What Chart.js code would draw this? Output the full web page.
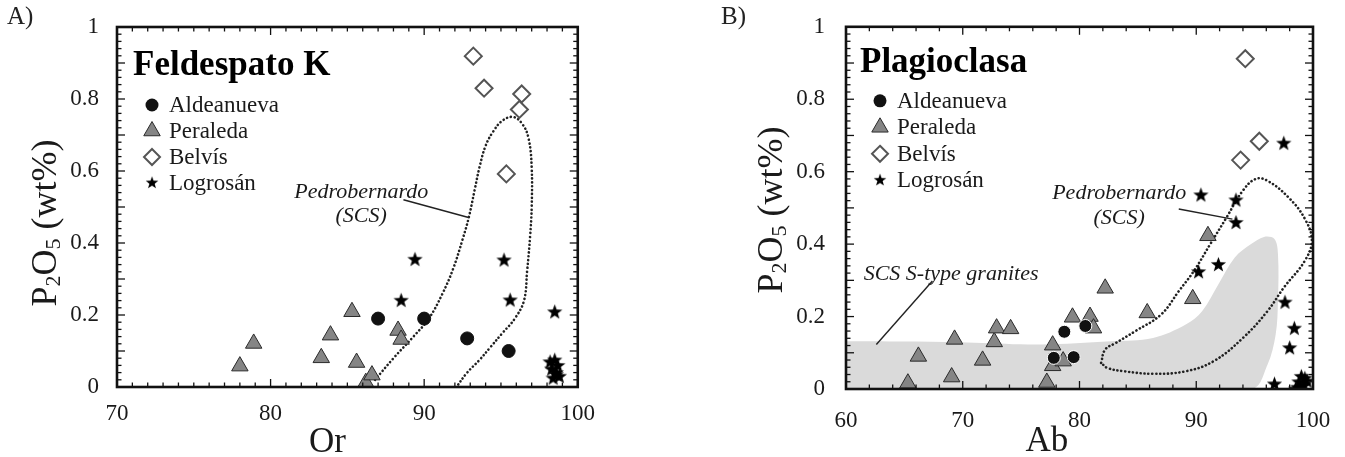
<!DOCTYPE html>
<html>
<head>
<meta charset="utf-8">
<script src="https://cdn.jsdelivr.net/npm/chart.js@4.4.0/dist/chart.umd.min.js"></script>
<style>
    html, body { margin: 0; padding: 0; background: #fff; font-family: "Liberation Serif", serif; }
    .cell { position: absolute; top: 0; height: 457px; }
    .tag { position: absolute; left: 7px; top: 2px; font-size: 25px; color: #222; z-index: 2; }
    .axes { position: absolute; left: 0; top: 0; z-index: 3; pointer-events: none; }
</style>
</head>
<body>
<div class="cell" id="pa" style="left:0;width:600px"><div class="tag">A)</div><canvas id="chartA"></canvas></div>
<div class="cell" id="pb" style="left:700px;width:645px"><div class="tag" style="left:21px">B)</div><canvas id="chartB"></canvas></div>
<script>
// ---- Panel A: Feldespato K (Or vs P2O5) ----
const aAldeOr = [87.0, 90.0, 92.8, 95.5];
const aAldeP  = [0.19, 0.19, 0.135, 0.10];
const aPeraOr = [78.0, 78.9, 83.3, 83.9, 85.3, 85.6, 86.2, 86.6, 88.3, 88.5];
const aPeraP  = [0.058, 0.121, 0.081, 0.144, 0.209, 0.068, 0.012, 0.033, 0.157, 0.132];
const aBelvOr = [93.2, 93.9, 96.35, 96.2, 95.35];
const aBelvP  = [0.919, 0.83, 0.814, 0.771, 0.592];
const aLogrOr = [89.4, 88.5, 95.2, 95.6, 98.5, 98.2, 98.5, 98.7, 98.3, 98.6, 98.8, 98.4, 98.6];
const aLogrP  = [0.355, 0.241, 0.353, 0.242, 0.209, 0.07, 0.075, 0.06, 0.05, 0.04, 0.03, 0.025, 0.035];
// Pedrobernardo (SCS) field outline
const aPedroOr = [86.8, 88.0, 89.3, 90.3, 91.2, 91.9, 92.5, 92.9, 93.3, 93.6, 94.0, 94.5, 95.1, 95.8, 96.4, 96.8, 97.0, 97.0, 96.9, 96.7, 96.5, 95.9, 95.1, 94.3, 93.6, 92.8, 92.1];
const aPedroP  = [0.02, 0.08, 0.14, 0.19, 0.26, 0.33, 0.41, 0.47, 0.55, 0.61, 0.67, 0.71, 0.74, 0.75, 0.73, 0.69, 0.61, 0.50, 0.42, 0.32, 0.24, 0.19, 0.15, 0.11, 0.075, 0.04, 0.0];
const aLeaderOr = [88.65, 92.95];
const aLeaderP  = [0.52, 0.47];

// ---- Panel B: Plagioclasa (Ab vs P2O5) ----
const bAldeAb = [78.7, 80.5, 77.8, 79.5];
const bAldeP  = [0.158, 0.174, 0.086, 0.088];
const bPeraAb = [65.3, 66.2, 69.05, 69.3, 71.7, 72.7, 72.9, 74.1, 77.2, 77.7, 77.7, 78.6, 79.4, 80.9, 81.2, 82.2, 85.8, 89.7, 91.0];
const bPeraP  = [0.016, 0.09, 0.033, 0.137, 0.079, 0.13, 0.168, 0.166, 0.018, 0.121, 0.064, 0.077, 0.198, 0.2, 0.168, 0.278, 0.21, 0.249, 0.423];
const bBelvAb = [94.2, 93.8, 95.4];
const bBelvP  = [0.912, 0.632, 0.684];
const bLogrAb = [90.4, 93.4, 93.4, 90.2, 91.9, 97.5, 97.6, 98.4, 98.0, 96.7, 98.5, 98.8, 99.0, 99.3, 98.9, 99.2, 99.5, 98.7];
const bLogrP  = [0.536, 0.522, 0.46, 0.324, 0.344, 0.679, 0.24, 0.168, 0.114, 0.014, 0.0, 0.02, 0.035, 0.03, 0.0, 0.01, 0.022, 0.005];
// SCS S-type granites field (shaded)
const bGranAb = [60, 66.0, 71.0, 76.7, 82.7, 86.3, 89.1, 90.5, 91.9, 93.3, 94.7, 95.8, 96.7, 97.0, 97.0, 96.8, 96.1, 94.7, 60];
const bGranP  = [0.132, 0.131, 0.128, 0.123, 0.132, 0.141, 0.178, 0.215, 0.289, 0.363, 0.40, 0.42, 0.414, 0.372, 0.243, 0.15, 0.067, 0.0, 0.0];
// Pedrobernardo (SCS) field outline
const bPedroAb = [81.85, 82.2, 83.1, 84.8, 87.0, 88.5, 89.8, 91.2, 92.6, 94.0, 95.1, 96.1, 97.9, 99.3, 99.9, 99.3, 97.5, 96.1, 94.0, 91.5, 89.1, 86.3, 83.8, 82.4, 81.85];
const bPedroP  = [0.072, 0.109, 0.127, 0.16, 0.206, 0.27, 0.326, 0.40, 0.474, 0.548, 0.58, 0.575, 0.529, 0.47, 0.41, 0.354, 0.28, 0.215, 0.141, 0.077, 0.049, 0.042, 0.049, 0.058, 0.072];
const bLeaderPedAb = [88.5, 93.1];
const bLeaderPedP  = [0.497, 0.469];
const bLeaderGranAb = [67.4, 62.6];
const bLeaderGranP  = [0.298, 0.123];

const seriesNames = ['Aldeanueva', 'Peraleda', 'Belvís', 'Logrosán'];

const SERIF = '"Liberation Serif", "Times New Roman", serif';
const INK = '#1a1a1a';

const pts = (xs, ys) => xs.map((x, i) => ({ x, y: ys[i] }));

const starImg = (() => {
    const c = document.createElement('canvas');
    c.width = c.height = 17;
    const g = c.getContext('2d');
    g.beginPath();
    for (let i = 0; i < 10; i++) {
        const r = i % 2 ? 3.3 : 8;
        const ang = -Math.PI / 2 + i * Math.PI / 5;
        g.lineTo(8.5 + r * Math.cos(ang), 9 + r * Math.sin(ang));
    }
    g.closePath();
    g.fillStyle = '#000';
    g.fill();
    return c;
})();

function markerSets(ald, pera, belv, logr, circleEdge) {
    return [
        { label: seriesNames[0], data: ald, pointStyle: 'circle', pointRadius: 6.5,
          backgroundColor: '#111', borderColor: circleEdge, borderWidth: 1 },
        { label: seriesNames[3], data: logr, pointStyle: starImg },
        { label: seriesNames[1], data: pera, pointStyle: 'triangle', pointRadius: 9.5,
          backgroundColor: '#858585', borderColor: '#2a2a2a', borderWidth: 1 },
        { label: seriesNames[2], data: belv, pointStyle: 'rectRot', pointRadius: 8.5,
          backgroundColor: '#fff', borderColor: '#555', borderWidth: 2 }
    ];
}

function dottedLine(data) {
    return { data, showLine: true, pointRadius: 0, borderColor: '#222', borderWidth: 2.6,
             borderDash: [0.1, 3.8], borderCapStyle: 'round', tension: 0.4, fill: false };
}

function leader(data) {
    return { data, showLine: true, pointRadius: 0, borderColor: '#222', borderWidth: 1.4, tension: 0 };
}

// box frame with inward minor/major ticks, laid over the canvas from the chart's own scales
function drawAxesBox(chart, cellId, t) {
    const cell = document.getElementById(cellId);
    const a = chart.chartArea;
    const sx = chart.scales.x, sy = chart.scales.y;
    const NS = 'http://www.w3.org/2000/svg';
    const svg = document.createElementNS(NS, 'svg');
    svg.setAttribute('class', 'axes');
    svg.setAttribute('width', cell.clientWidth);
    svg.setAttribute('height', cell.clientHeight);
    const line = (x1, y1, x2, y2, w) => {
        const l = document.createElementNS(NS, 'line');
        l.setAttribute('x1', x1); l.setAttribute('y1', y1);
        l.setAttribute('x2', x2); l.setAttribute('y2', y2);
        l.setAttribute('stroke', '#111');
        l.setAttribute('stroke-width', w);
        svg.appendChild(l);
    };
    const isMajor = (v, step) => Math.abs(v / step - Math.round(v / step)) < 1e-6;
    const nx = Math.round((sx.max - sx.min) / t.xMinor);
    for (let i = 0; i <= nx; i++) {
        const v = sx.min + i * t.xMinor;
        const len = isMajor(v, t.xMajor) ? 8 : 4.5;
        const p = sx.getPixelForValue(v);
        line(p, a.bottom, p, a.bottom - len, 1.3);
        line(p, a.top, p, a.top + len, 1.3);
    }
    const ny = Math.round((sy.max - sy.min) / t.yMinor);
    for (let i = 0; i <= ny; i++) {
        const v = sy.min + i * t.yMinor;
        const len = isMajor(v, t.yMajor) ? 8 : 4.5;
        const p = sy.getPixelForValue(v);
        line(a.left, p, a.left + len, p, 1.3);
        line(a.right, p, a.right - len, p, 1.3);
    }
    const r = document.createElementNS(NS, 'rect');
    r.setAttribute('x', a.left); r.setAttribute('y', a.top);
    r.setAttribute('width', a.right - a.left); r.setAttribute('height', a.bottom - a.top);
    r.setAttribute('fill', 'none'); r.setAttribute('stroke', '#111'); r.setAttribute('stroke-width', 2.6);
    svg.appendChild(r);
    cell.appendChild(svg);
}

// legend and texts
const panelPlugin = {
    id: 'panel',
    afterDatasetsDraw(chart, args, o) {
        const { ctx, chartArea: a, scales: { x, y } } = chart;
        ctx.save();
        ctx.fillStyle = '#000';
        // panel title
        ctx.font = 'bold 35px ' + SERIF;
        ctx.textAlign = 'left';
        ctx.textBaseline = 'alphabetic';
        ctx.fillText(o.title, a.left + o.titleDx, a.top + o.titleDy);

        // legend
        ctx.font = '23px ' + SERIF;
        ctx.textBaseline = 'middle';
        seriesNames.forEach((name, i) => {
            const cy = a.top + o.legTop + i * o.legGap;
            const cx = a.left + o.legDx;
            ctx.beginPath();
            if (i === 0) {
                ctx.arc(cx, cy, 6.5, 0, Math.PI * 2);
                ctx.fillStyle = '#111'; ctx.fill();
            } else if (i === 1) {
                const r = 9.5;
                ctx.moveTo(cx, cy - r);
                ctx.lineTo(cx + r * 0.866, cy + r / 2);
                ctx.lineTo(cx - r * 0.866, cy + r / 2);
                ctx.closePath();
                ctx.fillStyle = '#858585'; ctx.fill();
                ctx.strokeStyle = '#2a2a2a'; ctx.lineWidth = 1; ctx.stroke();
            } else if (i === 2) {
                const r = 8;
                ctx.moveTo(cx, cy - r); ctx.lineTo(cx + r, cy);
                ctx.lineTo(cx, cy + r); ctx.lineTo(cx - r, cy);
                ctx.closePath();
                ctx.fillStyle = '#fff'; ctx.fill();
                ctx.strokeStyle = '#555'; ctx.lineWidth = 2; ctx.stroke();
            } else {
                ctx.drawImage(starImg, cx - 7, cy - 7.5, 14, 14);
            }
            ctx.fillStyle = INK;
            ctx.fillText(name, a.left + o.legText, cy + 1);
        });

        // annotations
        ctx.font = 'italic 22px ' + SERIF;
        ctx.textAlign = 'center';
        o.notes.forEach(n => {
            ctx.fillText(n.text, x.getPixelForValue(n.x), y.getPixelForValue(n.y));
        });

        // x axis title
        ctx.font = '35px ' + SERIF;
        ctx.textBaseline = 'alphabetic';
        ctx.fillStyle = INK;
        ctx.fillText(o.xTitle, x.getPixelForValue(o.xTitleAt), o.xTitleBase);

        // y axis title P2O5 (wt%)
        const big = 36, small = 22;
        const parts = [['P', big, 0], ['2', small, 7], ['O', big, 0], ['5', small, 7], [' (wt%)', big, 0]];
        let w = 0;
        parts.forEach(p => { ctx.font = p[1] + 'px ' + SERIF; w += ctx.measureText(p[0]).width; });
        ctx.translate(a.left + o.yTitleDx, o.yTitleMid);
        ctx.rotate(-Math.PI / 2);
        ctx.textAlign = 'left';
        ctx.textBaseline = 'middle';
        let cx = -w / 2;
        parts.forEach(p => {
            ctx.font = p[1] + 'px ' + SERIF;
            ctx.fillText(p[0], cx, p[2]);
            cx += ctx.measureText(p[0]).width;
        });
        ctx.restore();
    }
};

function makeChart(id, cellId, cfg) {
    const yTick = v => String(Math.round(v * 10) / 10);
    const chart = new Chart(document.getElementById(id), {
        type: 'scatter',
        data: { datasets: cfg.datasets },
        options: {
            responsive: false,
            animation: false,
            layout: { padding: cfg.padding },
            plugins: {
                legend: { display: false },
                tooltip: { enabled: false },
                panel: cfg.panel
            },
            scales: {
                x: {
                    type: 'linear', min: cfg.xMin, max: 100,
                    afterFit: s => { s.height = cfg.xAxisH; },
                    border: { display: false },
                    grid: { display: false },
                    ticks: { stepSize: 10, color: INK, padding: cfg.xPad,
                             font: { family: SERIF, size: 23 } }
                },
                y: {
                    min: 0, max: 1,
                    afterFit: s => { s.width = cfg.yAxisW; },
                    border: { display: false },
                    grid: { display: false },
                    ticks: { stepSize: 0.2, color: INK, padding: cfg.yPad,
                             font: { family: SERIF, size: 23 }, callback: yTick }
                }
            }
        },
        plugins: [panelPlugin]
    });
    drawAxesBox(chart, cellId, cfg.ticks);
}

// fixed canvas sizes, same as the cells
document.getElementById('chartA').width = 600;
document.getElementById('chartA').height = 457;
document.getElementById('chartB').width = 645;
document.getElementById('chartB').height = 457;

makeChart('chartA', 'pa', {
    xMin: 70,
    xAxisH: 70,
    yAxisW: 117,
    xPad: 5,
    yPad: 10,
    padding: { top: 27, right: 17, left: 0, bottom: 0 },
    ticks: { xMinor: 1, xMajor: 10, yMinor: 0.02, yMajor: 0.1 },
    datasets: [
        ...markerSets(pts(aAldeOr, aAldeP), pts(aPeraOr, aPeraP), pts(aBelvOr, aBelvP), pts(aLogrOr, aLogrP), '#111'),
        leader(pts(aLeaderOr, aLeaderP)),
        dottedLine(pts(aPedroOr, aPedroP))
    ],
    panel: {
        title: 'Feldespato K', titleDx: 16, titleDy: 48,
        legDx: 35, legText: 52, legTop: 78, legGap: 26,
        notes: [
            { text: 'Pedrobernardo', x: 85.9, y: 0.54 },
            { text: '(SCS)', x: 85.9, y: 0.475 }
        ],
        xTitle: 'Or', xTitleAt: 83.7, xTitleBase: 452,
        yTitleDx: -70, yTitleMid: 223
    }
});

makeChart('chartB', 'pb', {
    xMin: 60,
    xAxisH: 68,
    yAxisW: 146,
    xPad: 10,
    yPad: 13,
    padding: { top: 25, right: 32, left: 0, bottom: 0 },
    ticks: { xMinor: 2, xMajor: 10, yMinor: 0.02, yMajor: 0.1 },
    datasets: [
        ...markerSets(pts(bAldeAb, bAldeP), pts(bPeraAb, bPeraP), pts(bBelvAb, bBelvP), pts(bLogrAb, bLogrP), '#fff'),
        leader(pts(bLeaderPedAb, bLeaderPedP)),
        leader(pts(bLeaderGranAb, bLeaderGranP)),
        dottedLine(pts(bPedroAb, bPedroP)),
        { data: pts(bGranAb, bGranP), showLine: true, pointRadius: 0, borderWidth: 0,
          borderColor: 'rgba(0,0,0,0)', backgroundColor: '#dadada', fill: 'shape', tension: 0.35 }
    ],
    panel: {
        title: 'Plagioclasa', titleDx: 14, titleDy: 45,
        legDx: 34, legText: 51, legTop: 74, legGap: 26.5,
        notes: [
            { text: 'Pedrobernardo', x: 83.4, y: 0.54 },
            { text: '(SCS)', x: 83.4, y: 0.472 },
            { text: 'SCS S-type granites', x: 69.0, y: 0.318 }
        ],
        xTitle: 'Ab', xTitleAt: 77.2, xTitleBase: 451,
        yTitleDx: -73, yTitleMid: 210
    }
});
</script>
</body>
</html>
